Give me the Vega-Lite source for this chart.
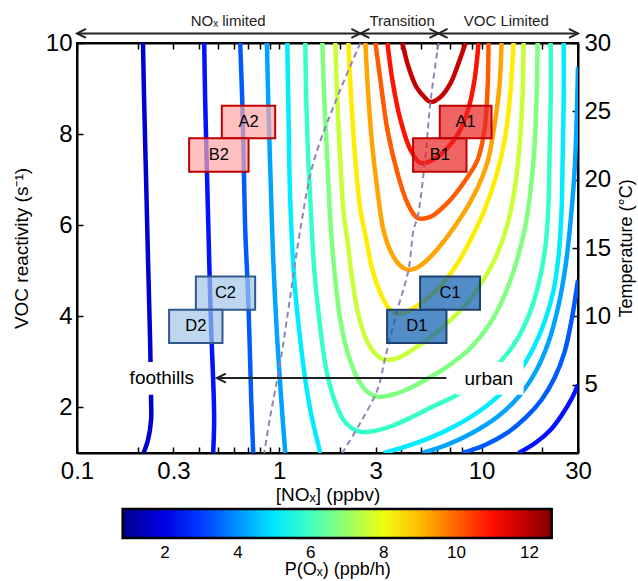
{
"$schema":"https://vega.github.io/schema/vega-lite/v6.json",
"autosize":{"type":"none"},
"padding":{"left":77,"top":43,"right":60,"bottom":128},
"width":501,"height":410,
"background":"white",
"config":{"font":"Liberation Sans","view":{"stroke":"black","strokeWidth":2},
"axis":{"domainColor":"black","domainWidth":2,"tickColor":"black","tickWidth":1.5,"labelColor":"black","titleColor":"black","grid":false,"titleFontWeight":"normal","labelFont":"Liberation Sans","titleFont":"Liberation Sans"},
"legend":{"labelFont":"Liberation Sans","titleFont":"Liberation Sans"}},
"datasets":{
"ct":[
{"c":"L1","v":1.681,"i":0,"x":0.212,"y":10},{"c":"L1","v":1.681,"i":1,"x":0.2147,"y":8.748},{"c":"L1","v":1.681,"i":2,"x":0.2196,"y":6.993},{"c":"L1","v":1.681,"i":3,"x":0.2245,"y":5.239},{"c":"L1","v":1.681,"i":4,"x":0.2298,"y":3.485},{"c":"L1","v":1.681,"i":5,"x":0.2325,"y":2.169},{"c":"L1","v":1.681,"i":6,"x":0.2325,"y":1.73},{"c":"L1","v":1.681,"i":7,"x":0.2245,"y":1.292},{"c":"L1","v":1.681,"i":8,"x":0.2133,"y":1},
{"c":"L2","v":2.521,"i":0,"x":0.4255,"y":10},{"c":"L2","v":2.521,"i":1,"x":0.4302,"y":8.748},{"c":"L2","v":2.521,"i":2,"x":0.4401,"y":6.993},{"c":"L2","v":2.521,"i":3,"x":0.4503,"y":5.239},{"c":"L2","v":2.521,"i":4,"x":0.4607,"y":3.704},{"c":"L2","v":2.521,"i":5,"x":0.4713,"y":2.607},{"c":"L2","v":2.521,"i":6,"x":0.4766,"y":1.73},{"c":"L2","v":2.521,"i":7,"x":0.4713,"y":1},
{"c":"R2","v":2.521,"i":0,"x":15.25,"y":1},{"c":"R2","v":2.521,"i":1,"x":18.51,"y":1.226},{"c":"R2","v":2.521,"i":2,"x":21.98,"y":1.511},{"c":"R2","v":2.521,"i":3,"x":25.18,"y":1.862},{"c":"R2","v":2.521,"i":4,"x":27.9,"y":2.191},{"c":"R2","v":2.521,"i":5,"x":30,"y":2.498},
{"c":"L3","v":3.362,"i":0,"x":0.641,"y":10},{"c":"L3","v":3.362,"i":1,"x":0.656,"y":8.748},{"c":"L3","v":3.362,"i":2,"x":0.667,"y":7.432},{"c":"L3","v":3.362,"i":3,"x":0.679,"y":5.897},{"c":"L3","v":3.362,"i":4,"x":0.703,"y":4.362},{"c":"L3","v":3.362,"i":5,"x":0.7268,"y":2.169},{"c":"L3","v":3.362,"i":6,"x":0.7436,"y":1},
{"c":"R3","v":3.362,"i":0,"x":8.053,"y":1},{"c":"R3","v":3.362,"i":1,"x":10.47,"y":1.182},{"c":"R3","v":3.362,"i":2,"x":13.45,"y":1.445},{"c":"R3","v":3.362,"i":3,"x":16.53,"y":1.774},{"c":"R3","v":3.362,"i":4,"x":19.82,"y":2.169},{"c":"R3","v":3.362,"i":5,"x":22.99,"y":2.651},{"c":"R3","v":3.362,"i":6,"x":25.76,"y":3.221},{"c":"R3","v":3.362,"i":7,"x":27.9,"y":3.923},{"c":"R3","v":3.362,"i":8,"x":30,"y":4.8},
{"c":"L4","v":4.203,"i":0,"x":0.8693,"y":10},{"c":"L4","v":4.203,"i":1,"x":0.882,"y":8.748},{"c":"L4","v":4.203,"i":2,"x":0.9128,"y":6.555},{"c":"L4","v":4.203,"i":3,"x":0.9338,"y":5.239},{"c":"L4","v":4.203,"i":4,"x":0.9774,"y":3.485},{"c":"L4","v":4.203,"i":5,"x":1.023,"y":2.169},{"c":"L4","v":4.203,"i":6,"x":1.071,"y":1},
{"c":"R4","v":4.203,"i":0,"x":5.105,"y":1},{"c":"R4","v":4.203,"i":1,"x":6.789,"y":1.182},{"c":"R4","v":4.203,"i":2,"x":9.026,"y":1.445},{"c":"R4","v":4.203,"i":3,"x":12,"y":1.796},{"c":"R4","v":4.203,"i":4,"x":15.25,"y":2.235},{"c":"R4","v":4.203,"i":5,"x":18.51,"y":2.783},{"c":"R4","v":4.203,"i":6,"x":21.48,"y":3.441},{"c":"R4","v":4.203,"i":7,"x":24.07,"y":4.252},{"c":"R4","v":4.203,"i":8,"x":26.08,"y":5.129},{"c":"R4","v":4.203,"i":9,"x":27.61,"y":6.116},{"c":"R4","v":4.203,"i":10,"x":28.87,"y":7.213},{"c":"R4","v":4.203,"i":11,"x":29.54,"y":8.309},{"c":"R4","v":4.203,"i":12,"x":30,"y":9.472},
{"c":"L5","v":5.044,"i":0,"x":1.096,"y":10},{"c":"L5","v":5.044,"i":1,"x":1.108,"y":8.748},{"c":"L5","v":5.044,"i":2,"x":1.133,"y":6.555},{"c":"L5","v":5.044,"i":3,"x":1.187,"y":4.8},{"c":"L5","v":5.044,"i":4,"x":1.27,"y":3.485},{"c":"L5","v":5.044,"i":5,"x":1.345,"y":2.607},{"c":"L5","v":5.044,"i":6,"x":1.44,"y":1.84},{"c":"L5","v":5.044,"i":7,"x":1.596,"y":1},
{"c":"R5","v":5.044,"i":0,"x":3.274,"y":1},{"c":"R5","v":5.044,"i":1,"x":4.209,"y":1.138},{"c":"R5","v":5.044,"i":2,"x":5.59,"y":1.336},{"c":"R5","v":5.044,"i":3,"x":7.44,"y":1.598},{"c":"R5","v":5.044,"i":4,"x":9.67,"y":1.906},{"c":"R5","v":5.044,"i":5,"x":12.42,"y":2.3},{"c":"R5","v":5.044,"i":6,"x":15.25,"y":2.761},{"c":"R5","v":5.044,"i":7,"x":17.89,"y":3.265},{"c":"R5","v":5.044,"i":8,"x":20.51,"y":3.879},{"c":"R5","v":5.044,"i":9,"x":22.73,"y":4.581},{"c":"R5","v":5.044,"i":10,"x":24.07,"y":5.349},{"c":"R5","v":5.044,"i":11,"x":24.89,"y":6.336},{"c":"R5","v":5.044,"i":12,"x":25.18,"y":7.432},{"c":"R5","v":5.044,"i":13,"x":25.49,"y":8.748},{"c":"R5","v":5.044,"i":14,"x":25.49,"y":10},
{"c":"U6","v":5.884,"i":0,"x":1.345,"y":10},{"c":"U6","v":5.884,"i":1,"x":1.36,"y":8.748},{"c":"U6","v":5.884,"i":2,"x":1.392,"y":7.432},{"c":"U6","v":5.884,"i":3,"x":1.44,"y":6.116},{"c":"U6","v":5.884,"i":4,"x":1.49,"y":5.02},{"c":"U6","v":5.884,"i":5,"x":1.578,"y":3.923},{"c":"U6","v":5.884,"i":6,"x":1.709,"y":2.827},{"c":"U6","v":5.884,"i":7,"x":1.872,"y":2.169},{"c":"U6","v":5.884,"i":8,"x":2.074,"y":1.73},{"c":"U6","v":5.884,"i":9,"x":2.298,"y":1.533},{"c":"U6","v":5.884,"i":10,"x":2.518,"y":1.467},{"c":"U6","v":5.884,"i":11,"x":2.988,"y":1.489},{"c":"U6","v":5.884,"i":12,"x":3.626,"y":1.598},{"c":"U6","v":5.884,"i":13,"x":4.457,"y":1.774},{"c":"U6","v":5.884,"i":14,"x":5.59,"y":1.993},{"c":"U6","v":5.884,"i":15,"x":7.44,"y":2.257},{"c":"U6","v":5.884,"i":16,"x":9.67,"y":2.564},{"c":"U6","v":5.884,"i":17,"x":12.14,"y":2.958},{"c":"U6","v":5.884,"i":18,"x":14.74,"y":3.441},{"c":"U6","v":5.884,"i":19,"x":17.1,"y":4.011},{"c":"U6","v":5.884,"i":20,"x":19.16,"y":4.713},{"c":"U6","v":5.884,"i":21,"x":20.75,"y":5.568},{"c":"U6","v":5.884,"i":22,"x":21.48,"y":6.555},{"c":"U6","v":5.884,"i":23,"x":21.72,"y":7.651},{"c":"U6","v":5.884,"i":24,"x":21.98,"y":8.748},{"c":"U6","v":5.884,"i":25,"x":21.98,"y":10},
{"c":"U7","v":6.725,"i":0,"x":1.633,"y":10},{"c":"U7","v":6.725,"i":1,"x":1.67,"y":8.748},{"c":"U7","v":6.725,"i":2,"x":1.729,"y":7.432},{"c":"U7","v":6.725,"i":3,"x":1.788,"y":6.116},{"c":"U7","v":6.725,"i":4,"x":1.872,"y":5.02},{"c":"U7","v":6.725,"i":5,"x":2.004,"y":3.923},{"c":"U7","v":6.725,"i":6,"x":2.196,"y":3.155},{"c":"U7","v":6.725,"i":7,"x":2.461,"y":2.607},{"c":"U7","v":6.725,"i":8,"x":2.727,"y":2.344},{"c":"U7","v":6.725,"i":9,"x":3.057,"y":2.235},{"c":"U7","v":6.725,"i":10,"x":3.626,"y":2.278},{"c":"U7","v":6.725,"i":11,"x":4.356,"y":2.41},{"c":"U7","v":6.725,"i":12,"x":5.28,"y":2.607},{"c":"U7","v":6.725,"i":13,"x":6.87,"y":2.914},{"c":"U7","v":6.725,"i":14,"x":8.83,"y":3.309},{"c":"U7","v":6.725,"i":15,"x":10.83,"y":3.792},{"c":"U7","v":6.725,"i":16,"x":12.71,"y":4.362},{"c":"U7","v":6.725,"i":17,"x":14.57,"y":5.064},{"c":"U7","v":6.725,"i":18,"x":16.33,"y":5.897},{"c":"U7","v":6.725,"i":19,"x":17.5,"y":6.774},{"c":"U7","v":6.725,"i":20,"x":18.3,"y":7.761},{"c":"U7","v":6.725,"i":21,"x":18.73,"y":8.857},{"c":"U7","v":6.725,"i":22,"x":18.94,"y":10},
{"c":"U8","v":7.566,"i":0,"x":1.893,"y":10},{"c":"U8","v":7.566,"i":1,"x":1.937,"y":8.748},{"c":"U8","v":7.566,"i":2,"x":2.004,"y":7.432},{"c":"U8","v":7.566,"i":3,"x":2.074,"y":6.336},{"c":"U8","v":7.566,"i":4,"x":2.171,"y":5.678},{"c":"U8","v":7.566,"i":5,"x":2.298,"y":4.8},{"c":"U8","v":7.566,"i":6,"x":2.461,"y":4.033},{"c":"U8","v":7.566,"i":7,"x":2.696,"y":3.485},{"c":"U8","v":7.566,"i":8,"x":2.988,"y":3.178},{"c":"U8","v":7.566,"i":9,"x":3.35,"y":3.046},{"c":"U8","v":7.566,"i":10,"x":3.886,"y":3.09},{"c":"U8","v":7.566,"i":11,"x":4.554,"y":3.265},{"c":"U8","v":7.566,"i":12,"x":5.47,"y":3.507},{"c":"U8","v":7.566,"i":13,"x":6.712,"y":3.836},{"c":"U8","v":7.566,"i":14,"x":8.34,"y":4.252},{"c":"U8","v":7.566,"i":15,"x":10,"y":4.735},{"c":"U8","v":7.566,"i":16,"x":11.73,"y":5.283},{"c":"U8","v":7.566,"i":17,"x":13.3,"y":5.941},{"c":"U8","v":7.566,"i":18,"x":14.57,"y":6.774},{"c":"U8","v":7.566,"i":19,"x":15.43,"y":7.761},{"c":"U8","v":7.566,"i":20,"x":15.96,"y":8.857},{"c":"U8","v":7.566,"i":21,"x":16.15,"y":10},
{"c":"U9","v":8.406,"i":0,"x":2.196,"y":10},{"c":"U9","v":8.406,"i":1,"x":2.272,"y":8.748},{"c":"U9","v":8.406,"i":2,"x":2.378,"y":7.432},{"c":"U9","v":8.406,"i":3,"x":2.518,"y":6.336},{"c":"U9","v":8.406,"i":4,"x":2.696,"y":5.678},{"c":"U9","v":8.406,"i":5,"x":2.887,"y":5.02},{"c":"U9","v":8.406,"i":6,"x":3.164,"y":4.515},{"c":"U9","v":8.406,"i":7,"x":3.467,"y":4.186},{"c":"U9","v":8.406,"i":8,"x":3.839,"y":4.055},{"c":"U9","v":8.406,"i":9,"x":4.457,"y":4.142},{"c":"U9","v":8.406,"i":10,"x":5.28,"y":4.362},{"c":"U9","v":8.406,"i":11,"x":6.34,"y":4.691},{"c":"U9","v":8.406,"i":12,"x":7.522,"y":5.129},{"c":"U9","v":8.406,"i":13,"x":8.83,"y":5.678},{"c":"U9","v":8.406,"i":14,"x":10.35,"y":6.336},{"c":"U9","v":8.406,"i":15,"x":11.87,"y":7.103},{"c":"U9","v":8.406,"i":16,"x":13.15,"y":7.98},{"c":"U9","v":8.406,"i":17,"x":13.93,"y":8.967},{"c":"U9","v":8.406,"i":18,"x":14.4,"y":10},
{"c":"U10","v":9.247,"i":0,"x":2.666,"y":10},{"c":"U10","v":9.247,"i":1,"x":2.759,"y":8.814},{"c":"U10","v":9.247,"i":2,"x":2.887,"y":7.717},{"c":"U10","v":9.247,"i":3,"x":3.057,"y":6.774},{"c":"U10","v":9.247,"i":4,"x":3.274,"y":5.897},{"c":"U10","v":9.247,"i":5,"x":3.585,"y":5.393},{"c":"U10","v":9.247,"i":6,"x":3.976,"y":5.107},{"c":"U10","v":9.247,"i":7,"x":4.356,"y":5.02},{"c":"U10","v":9.247,"i":8,"x":4.877,"y":5.086},{"c":"U10","v":9.247,"i":9,"x":5.59,"y":5.305},{"c":"U10","v":9.247,"i":10,"x":6.712,"y":5.722},{"c":"U10","v":9.247,"i":11,"x":8.053,"y":6.226},{"c":"U10","v":9.247,"i":12,"x":9.446,"y":6.774},{"c":"U10","v":9.247,"i":13,"x":10.71,"y":7.388},{"c":"U10","v":9.247,"i":14,"x":11.6,"y":8.2},{"c":"U10","v":9.247,"i":15,"x":12.28,"y":9.077},{"c":"U10","v":9.247,"i":16,"x":12.56,"y":10},
{"c":"U11","v":10.088,"i":0,"x":2.988,"y":10},{"c":"U11","v":10.088,"i":1,"x":3.164,"y":9.186},{"c":"U11","v":10.088,"i":2,"x":3.426,"y":8.09},{"c":"U11","v":10.088,"i":3,"x":3.839,"y":7.147},{"c":"U11","v":10.088,"i":4,"x":4.302,"y":6.489},{"c":"U11","v":10.088,"i":5,"x":4.83,"y":6.16},{"c":"U11","v":10.088,"i":6,"x":5.59,"y":6.182},{"c":"U11","v":10.088,"i":7,"x":6.789,"y":6.489},{"c":"U11","v":10.088,"i":8,"x":8.15,"y":6.928},{"c":"U11","v":10.088,"i":9,"x":9.555,"y":7.432},{"c":"U11","v":10.088,"i":10,"x":10.35,"y":8.09},{"c":"U11","v":10.088,"i":11,"x":10.71,"y":8.967},{"c":"U11","v":10.088,"i":12,"x":10.83,"y":10},
{"c":"U12","v":10.928,"i":0,"x":3.426,"y":10},{"c":"U12","v":10.928,"i":1,"x":3.626,"y":9.186},{"c":"U12","v":10.928,"i":2,"x":3.976,"y":8.309},{"c":"U12","v":10.928,"i":3,"x":4.457,"y":7.651},{"c":"U12","v":10.928,"i":4,"x":4.99,"y":7.366},{"c":"U12","v":10.928,"i":5,"x":5.722,"y":7.432},{"c":"U12","v":10.928,"i":6,"x":6.64,"y":7.651},{"c":"U12","v":10.928,"i":7,"x":7.7,"y":8.024},{"c":"U12","v":10.928,"i":8,"x":8.63,"y":8.572},{"c":"U12","v":10.928,"i":9,"x":9.233,"y":9.186},{"c":"U12","v":10.928,"i":10,"x":9.67,"y":10},
{"c":"U13","v":11.769,"i":0,"x":4.064,"y":10},{"c":"U13","v":11.769,"i":1,"x":4.356,"y":9.472},{"c":"U13","v":11.769,"i":2,"x":4.767,"y":9.033},{"c":"U13","v":11.769,"i":3,"x":5.28,"y":8.791},{"c":"U13","v":11.769,"i":4,"x":5.59,"y":8.704},{"c":"U13","v":11.769,"i":5,"x":6.27,"y":8.814},{"c":"U13","v":11.769,"i":6,"x":7.03,"y":9.12},{"c":"U13","v":11.769,"i":7,"x":7.7,"y":9.559},{"c":"U13","v":11.769,"i":8,"x":8.34,"y":10}
],
"dash":[
{"c":"D1","i":0,"x":2.518,"y":10},{"c":"D1","i":1,"x":1.937,"y":8.814},{"c":"D1","i":2,"x":1.473,"y":7.366},{"c":"D1","i":3,"x":1.27,"y":5.897},{"c":"D1","i":4,"x":1.133,"y":4.428},{"c":"D1","i":5,"x":1.011,"y":2.98},{"c":"D1","i":6,"x":0.902,"y":1.796},{"c":"D1","i":7,"x":0.843,"y":1},
{"c":"D2","i":0,"x":6.13,"y":10},{"c":"D2","i":1,"x":5.59,"y":8.704},{"c":"D2","i":2,"x":5.28,"y":7.498},{"c":"D2","i":3,"x":4.83,"y":6.182},{"c":"D2","i":4,"x":4.612,"y":5.897},{"c":"D2","i":5,"x":4.356,"y":5.02},{"c":"D2","i":6,"x":3.839,"y":4.142},{"c":"D2","i":7,"x":3.35,"y":3.112},{"c":"D2","i":8,"x":3.057,"y":2.388},{"c":"D2","i":9,"x":2.518,"y":1.664},{"c":"D2","i":10,"x":2.051,"y":1}
],
"boxes":[
{"id":"A1","k":"r","x1":6.22,"x2":11.21,"y1":7.91,"y2":8.62,"lx":8.35,"ly":8.265},
{"id":"B1","k":"r","x1":4.59,"x2":8.43,"y1":7.175,"y2":7.91,"lx":6.22,"ly":7.54},
{"id":"A2","k":"p","x1":0.52,"x2":0.955,"y1":7.91,"y2":8.62,"lx":0.7047,"ly":8.265},
{"id":"B2","k":"p","x1":0.3584,"x2":0.705,"y1":7.175,"y2":7.91,"lx":0.5027,"ly":7.54},
{"id":"C1","k":"b","x1":4.97,"x2":9.83,"y1":4.143,"y2":4.873,"lx":6.99,"ly":4.508},
{"id":"D1","k":"b","x1":3.414,"x2":6.71,"y1":3.412,"y2":4.143,"lx":4.786,"ly":3.778},
{"id":"C2","k":"l","x1":0.387,"x2":0.76,"y1":4.143,"y2":4.873,"lx":0.5423,"ly":4.508},
{"id":"D2","k":"l","x1":0.2853,"x2":0.524,"y1":3.412,"y2":4.143,"lx":0.3866,"ly":3.778}
],
"bg":[{"x1":0.173,"x2":0.397,"y1":2.28,"y2":3.0},{"x1":7.44,"x2":16.15,"y1":2.28,"y2":3.0}],
"lab":[{"t":"foothills","x":0.2626,"y":2.64},{"t":"urban","x":10.87,"y":2.62}],
"rules":[{"x1":0.1,"x2":2.518,"y":10.21,"w":"top"},{"x1":2.518,"x2":6.13,"y":10.21,"w":"top"},{"x1":6.13,"x2":30,"y":10.21,"w":"top"},{"x1":0.4916,"x2":6.71,"y":2.645,"w":"mid"}],
"heads":[{"x":0.1,"y":10.21,"d":"L"},{"x":2.518,"y":10.21,"d":"R"},{"x":2.518,"y":10.21,"d":"L"},{"x":6.13,"y":10.21,"d":"R"},{"x":6.13,"y":10.21,"d":"L"},{"x":30,"y":10.21,"d":"R"},{"x":0.4916,"y":2.645,"d":"L"}],
"toptext":[{"t":"NOₓ limited","x":0.559,"y":10.49},{"t":"Transition","x":4.05,"y":10.49},{"t":"VOC Limited","x":13.25,"y":10.49}]
},
"layer":[
{"layer":[
{"data":{"name":"ct"},
"mark":{"type":"line","strokeWidth":4.5,"interpolate":"catmull-rom","clip":true},
"encoding":{
"x":{"field":"x","type":"quantitative","scale":{"type":"log","domain":[0.1,30],"nice":false},
"axis":{"orient":"bottom","values":[0.1,0.2,0.3,0.4,0.5,0.6,0.7,0.8,0.9,1,2,3,4,5,6,7,8,9,10,20,30],"labelExpr":"indexof([0.1,0.3,1,3,10,30], datum.value) >= 0 ? format(datum.value, '~g') : ''","labelFlush":false,"labelOverlap":false,"labelFontSize":24,"tickSize":-6,"labelPadding":12,"title":"[NOₓ] (ppbv)","titleFontSize":19,"titlePadding":2}},
"y":{"field":"y","type":"quantitative","scale":{"domain":[1,10],"nice":false,"zero":false},
"axis":{"values":[2,4,6,8,10],"labelFlush":false,"labelFontSize":24,"tickSize":-6,"labelPadding":11,"title":"VOC reactivity (s⁻¹)","titleFontSize":19,"titlePadding":14}},
"color":{"field":"v","type":"quantitative","scale":{"type":"linear","domain":[0.84,12.61],"range":["#00008f","#0000ff","#0080ff","#00ffff","#80ff80","#ffff00","#ff8000","#ff0000","#800000"],"interpolate":"rgb"},
"legend":{"orient":"none","legendX":45.7,"legendY":466,"direction":"horizontal","gradientLength":429,"gradientThickness":29,"gradientStrokeColor":"black","gradientStrokeWidth":2.5,"values":[2,4,6,8,10,12],"labelFontSize":17,"labelColor":"black","labelOffset":7,"labelOverlap":false,"title":"P(Oₓ) (ppb/h)","titleOrient":"bottom","titleAnchor":"middle","titleFontSize":18,"titleFontWeight":"normal","titleColor":"black","titlePadding":0}},
"detail":{"field":"c"},
"order":{"field":"i","type":"quantitative"}}},
{"data":{"name":"dash"},
"mark":{"type":"line","color":"#9383b8","strokeWidth":2,"strokeDash":[6,4],"interpolate":"catmull-rom","clip":true},
"encoding":{"x":{"field":"x","type":"quantitative"},"y":{"field":"y","type":"quantitative"},"detail":{"field":"c"},"order":{"field":"i","type":"quantitative"}}},
{"data":{"name":"bg"},"mark":{"type":"rect","color":"white"},
"encoding":{"x":{"field":"x1","type":"quantitative"},"x2":{"field":"x2"},"y":{"field":"y1","type":"quantitative"},"y2":{"field":"y2"}}},
{"data":{"name":"boxes"},"mark":{"type":"rect","strokeWidth":2,"fillOpacity":0.7},
"encoding":{"x":{"field":"x1","type":"quantitative"},"x2":{"field":"x2"},"y":{"field":"y1","type":"quantitative"},"y2":{"field":"y2"},
"fill":{"field":"k","type":"nominal","scale":{"domain":["r","p","b","l"],"range":["#e92222","#ffa5a5","#0a5cb0","#a2c6e7"]},"legend":null},
"stroke":{"field":"k","type":"nominal","scale":{"domain":["r","p","b","l"],"range":["#c00000","#c00000","#1f3f6e","#2f5a8c"]},"legend":null}}},
{"data":{"name":"boxes"},"mark":{"type":"text","fontSize":16.5,"color":"black"},
"encoding":{"x":{"field":"lx","type":"quantitative"},"y":{"field":"ly","type":"quantitative"},"text":{"field":"id"}}},
{"data":{"name":"lab"},"mark":{"type":"text","fontSize":19,"color":"black"},
"encoding":{"x":{"field":"x","type":"quantitative"},"y":{"field":"y","type":"quantitative"},"text":{"field":"t"}}},
{"data":{"name":"rules"},"mark":{"type":"rule","strokeWidth":2,"color":"#222"},
"encoding":{"x":{"field":"x1","type":"quantitative"},"x2":{"field":"x2"},"y":{"field":"y","type":"quantitative"}}},
{"data":{"name":"heads"},"mark":{"type":"point","filled":false,"size":81,"strokeWidth":2,"color":"#222","opacity":1},
"encoding":{"x":{"field":"x","type":"quantitative"},"y":{"field":"y","type":"quantitative"},
"shape":{"field":"d","type":"nominal","scale":{"domain":["L","R"],"range":["M2,-1L0,0L2,1","M-2,-1L0,0L-2,1"]},"legend":null}}},
{"data":{"name":"toptext"},"mark":{"type":"text","fontSize":15,"color":"#222"},
"encoding":{"x":{"field":"x","type":"quantitative"},"y":{"field":"y","type":"quantitative"},"text":{"field":"t"}}}
]},
{"data":{"values":[{"T":0,"N":0.1},{"T":30,"N":30}]},
"mark":{"type":"point","opacity":0},
"encoding":{
"x":{"field":"N","type":"quantitative","scale":{"type":"log","domain":[0.1,30],"nice":false},
"axis":{"orient":"top","values":[0.1,0.2,0.3,0.4,0.5,0.6,0.7,0.8,0.9,1,2,3,4,5,6,7,8,9,10,20,30],"labels":false,"tickSize":-6,"title":null}},
"y":{"field":"T","type":"quantitative","scale":{"domain":[0,30],"nice":false},
"axis":{"orient":"right","values":[5,10,15,20,25,30],"labelFlush":false,"labelFontSize":24,"tickSize":-6,"labelPadding":12,"title":"Temperature (°C)","titleFontSize":18,"titleAngle":270,"titlePadding":25}}}}
],
"resolve":{"scale":{"x":"independent","y":"independent"}}
}
